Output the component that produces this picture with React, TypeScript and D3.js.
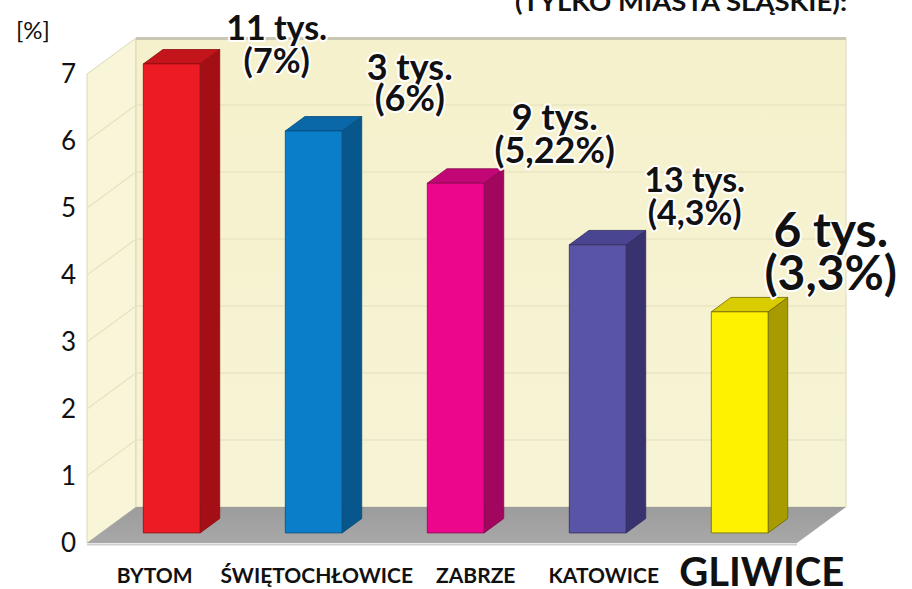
import React from "react";
import * as d3 from "d3";

// ---- data ----
const categories = ["BYTOM", "ŚWIĘTOCHŁOWICE", "ZABRZE", "KATOWICE", "GLIWICE"];
const values = [7, 6, 5.22, 4.3, 3.3];
const countLabels = ["11 tys.", "3 tys.", "9 tys.", "13 tys.", "6 tys."];
const percentLabels = ["(7%)", "(6%)", "(5,22%)", "(4,3%)", "(3,3%)"];
const yTicks = [0, 1, 2, 3, 4, 5, 6, 7];
const unitLabel = "[%]";
const headerText = "(TYLKO MIASTA ŚLĄSKIE):";

// ---- styles ----
const frontColors = ["#ed1c24", "#0b7ec9", "#ec068b", "#5a54a6", "#fff200"];
const sideColors = ["#a30f14", "#07578c", "#a1075f", "#38336e", "#a89b00"];
const topColors = ["#c2141a", "#0a68a8", "#c20675", "#4a4590", "#d9cc00"];
const strokeColors = ["#8a0c10", "#064a78", "#870550", "#2e2a5c", "#6e6600"];
const labelFont = [34, 36, 36, 34, 48];
const labelDx = [105, 96, 99, 97, 91];
const labelDy = [-24, -51, -53, -53, -65];
const labelGap = [33, 31, 33, 33, 43];
const catFont = [21, 21, 21, 21, 40];
const catDx = [-17, 3, 20, 6, 22];
const catBaseline = [583, 583, 583, 583, 586];

const W = 912;
const H = 589;
const X0 = 87;
const X1 = 797;
const DX = 49;
const DY = -36;
const F1 = 0.28;
const F2 = 0.68;
const FONT = "Lato, 'Open Sans', sans-serif";

export default function App() {
  const x = d3.scaleBand<string>().domain(categories).range([X0, X1]).padding(0);
  const y = d3.scaleLinear().domain([0, 7]).range([543, 74]);
  const bw = x.bandwidth();
  const barW = bw * 0.4;
  const y0 = y(0);
  const yTop = y(7);

  const pt = (px: number, py: number, f: number) => [px + f * DX, py + f * DY];
  const poly = (pts: number[][]) => pts.map((p) => p.join(",")).join(" ");

  const backWall = poly([pt(X0, yTop, 1), pt(X1, yTop, 1), pt(X1, y0, 1), pt(X0, y0, 1)]);
  const sideWall = poly([pt(X0, yTop, 0), pt(X0, yTop, 1), pt(X0, y0, 1), pt(X0, y0, 0)]);
  const floor = poly([pt(X0, y0, 0), pt(X0, y0, 1), pt(X1, y0, 1), pt(X1, y0, 0)]);

  return (
    <svg
      width={W}
      height={H}
      style={{ position: "absolute", left: 0, top: 0, display: "block", background: "#fff" }}
      fontFamily={FONT}
    >
      <defs>
        <linearGradient id="wallg" x1="0" y1="0" x2="0" y2="1">
          <stop offset="0" stopColor="#f5f1cc" />
          <stop offset="1" stopColor="#f7f4d6" />
        </linearGradient>
        <linearGradient id="floorg" x1="0" y1="0" x2="0" y2="1">
          <stop offset="0" stopColor="#9c9c9c" />
          <stop offset="1" stopColor="#a8a8a8" />
        </linearGradient>
      </defs>

      {/* header (clipped at top) */}
      <text
        x={847}
        y={11}
        textAnchor="end"
        fontSize={25}
        fontWeight="bold"
        fill="#111"
        textLength={332}
        lengthAdjust="spacingAndGlyphs"
      >
        {headerText}
      </text>

      {/* walls */}
      <polygon points={sideWall} fill="#f8f5d8" stroke="#dcd8b8" strokeWidth={1} />
      <polygon points={backWall} fill="url(#wallg)" stroke="#dcd8b8" strokeWidth={1} />
      <line
        x1={X0 + DX}
        x2={X1 + DX}
        y1={yTop + DY + 0.5}
        y2={yTop + DY + 0.5}
        stroke="#c9c6b4"
        strokeWidth={3}
      />
      {yTicks.slice(1, -1).map((t) => {
        const a = pt(X0, y(t), 0);
        const b = pt(X0, y(t), 1);
        const c = pt(X1, y(t), 1);
        return (
          <g key={"g" + t}>
            <line x1={a[0]} y1={a[1]} x2={b[0]} y2={b[1]} stroke="#e6e2c2" strokeWidth={1.2} />
            <line x1={b[0]} y1={b[1]} x2={c[0]} y2={c[1]} stroke="#e4e0bd" strokeWidth={1.2} />
          </g>
        );
      })}
      <polygon points={floor} fill="url(#floorg)" />
      <line x1={X0} x2={X1} y1={y0 + 1.5} y2={y0 + 1.5} stroke="#cfcfcf" strokeWidth={2} />

      {/* y ticks */}
      {yTicks.map((t) => (
        <text
          key={"t" + t}
          x={76}
          y={y(t)}
          dy="0.36em"
          textAnchor="end"
          fontSize={26}
          fill="#111"
        >
          {t}
        </text>
      ))}
      <text x={16} y={39} fontSize={24} fill="#111">
        {unitLabel}
      </text>

      {/* bars */}
      {categories.map((c, i) => {
        const bx = (x(c) as number) + (bw - barW) / 2;
        const top = y(values[i]);
        const fl = pt(bx, top, F1);
        const fr = pt(bx + barW, top, F1);
        const br = pt(bx + barW, top, F2);
        const bl = pt(bx, top, F2);
        const frb = pt(bx + barW, y0, F1);
        const brb = pt(bx + barW, y0, F2);
        const flb = pt(bx, y0, F1);
        return (
          <g key={c} stroke={strokeColors[i]} strokeWidth={0.8} strokeLinejoin="round">
            <polygon points={poly([fr, br, brb, frb])} fill={sideColors[i]} />
            <polygon points={poly([fl, fr, br, bl])} fill={topColors[i]} />
            <rect x={fl[0]} y={fl[1]} width={barW} height={flb[1] - fl[1]} fill={frontColors[i]} />
          </g>
        );
      })}

      {/* value labels */}
      {categories.map((c, i) => {
        const bx = (x(c) as number) + (bw - barW) / 2;
        const front = pt(bx + barW / 2, y(values[i]), F1);
        const cx = front[0] + labelDx[i];
        const by = front[1] + labelDy[i];
        return (
          <g
            key={"l" + c}
            fontSize={labelFont[i]}
            fontWeight="bold"
            textAnchor="middle"
            fill="#111"
            stroke="#fff"
            strokeWidth={4}
            strokeLinejoin="round"
            style={{ paintOrder: "stroke" }}
          >
            <text x={cx} y={by}>
              {countLabels[i]}
            </text>
            <text x={cx} y={by + labelGap[i]}>
              {percentLabels[i]}
            </text>
          </g>
        );
      })}

      {/* category labels */}
      {categories.map((c, i) => {
        const bx = (x(c) as number) + (bw - barW) / 2;
        const front = pt(bx + barW / 2, y0, F1);
        return (
          <text
            key={"c" + c}
            x={front[0] + catDx[i]}
            y={catBaseline[i]}
            textAnchor="middle"
            fontSize={catFont[i]}
            fontWeight="bold"
            fill="#111"
          >
            {c}
          </text>
        );
      })}
    </svg>
  );
}
